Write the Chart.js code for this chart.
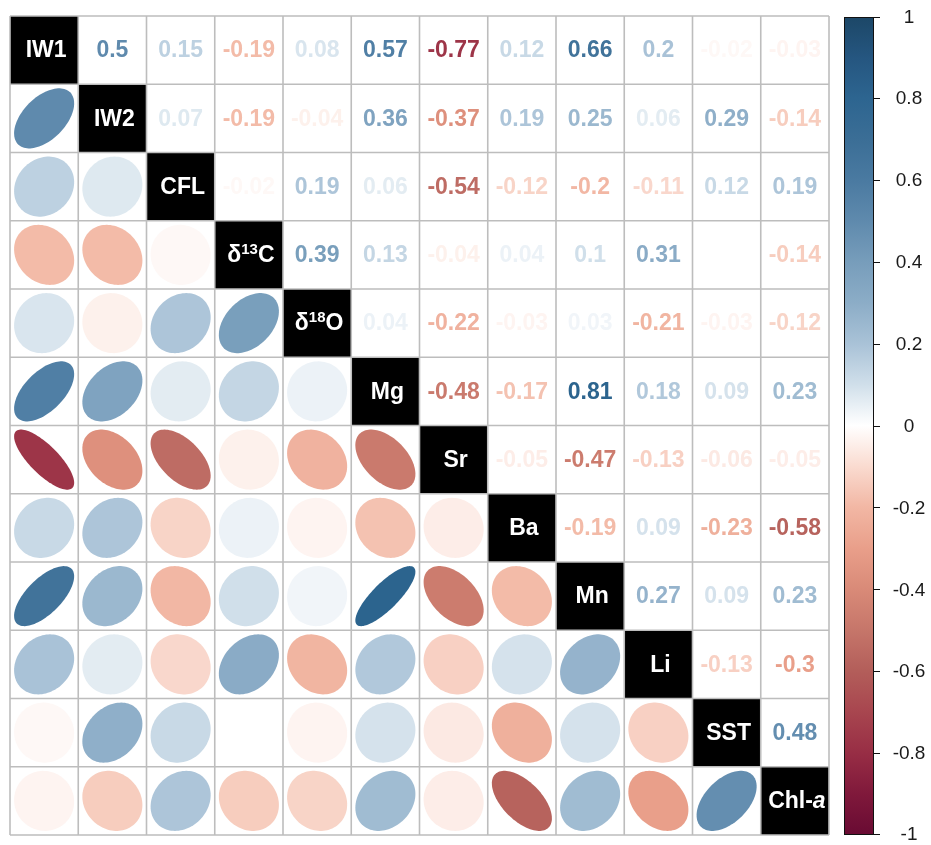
<!DOCTYPE html>
<html>
<head>
<meta charset="utf-8">
<script src="https://cdn.jsdelivr.net/npm/chart.js@4.4.1/dist/chart.umd.min.js"></script>
<style>
  html, body { margin: 0; padding: 0; background: #fff; }
  #wrap { width: 931px; height: 845px; }
</style>
</head>
<body>
<div id="wrap"><canvas id="corrChart"></canvas></div>
<script>
// variables, in matrix order
const labels = ["IW1", "IW2", "CFL", "δ13C", "δ18O", "Mg", "Sr", "Ba", "Mn", "Li", "SST", "Chl-a"];

// upper triangle: correlation of each variable with the ones after it
const rIW1 = [0.5, 0.15, -0.19, 0.08, 0.57, -0.77, 0.12, 0.66, 0.2, -0.02, -0.03];
const rIW2 = [0.07, -0.19, -0.04, 0.36, -0.37, 0.19, 0.25, 0.06, 0.29, -0.14];
const rCFL = [-0.02, 0.19, 0.06, -0.54, -0.12, -0.2, -0.11, 0.12, 0.19];
const rD13C = [0.39, 0.13, -0.04, 0.04, 0.1, 0.31, 0, -0.14];
const rD18O = [0.04, -0.22, -0.03, 0.03, -0.21, -0.03, -0.12];
const rMg = [-0.48, -0.17, 0.81, 0.18, 0.09, 0.23];
const rSr = [-0.05, -0.47, -0.13, -0.06, -0.05];
const rBa = [-0.19, 0.09, -0.23, -0.58];
const rMn = [0.27, 0.09, 0.23];
const rLi = [-0.13, -0.3];
const rSST = [0.48];

// colour bar ticks
const barTicks = [1, 0.8, 0.6, 0.4, 0.2, 0, -0.2, -0.4, -0.6, -0.8, -1];
const barTickLabels = ["1", "0.8", "0.6", "0.4", "0.2", "0", "-0.2", "-0.4", "-0.6", "-0.8", "-1"];

// palette stops (value -> colour)
const palette = [
  [-1.0, "#690b33"], [-0.9, "#80193b"], [-0.8, "#982e45"], [-0.7, "#a8464f"],
  [-0.6, "#b35e5a"], [-0.5, "#c6766a"], [-0.4, "#d98a78"], [-0.3, "#e99f8a"],
  [-0.2, "#f2b7a4"], [-0.1, "#fadbd0"], [0, "#ffffff"], [0.1, "#d0dfea"],
  [0.2, "#a9c2d7"], [0.3, "#8cadc7"], [0.4, "#779dbb"], [0.5, "#5f8aad"],
  [0.6, "#4a7aa1"], [0.7, "#3b6e96"], [0.8, "#2d6590"], [0.9, "#255680"],
  [1.0, "#1c4767"]
];

const FONT = '"Liberation Sans", Arial, sans-serif';

function hexToRgb(h) {
  return [parseInt(h.slice(1, 3), 16), parseInt(h.slice(3, 5), 16), parseInt(h.slice(5, 7), 16)];
}

function colorFor(v) {
  for (let i = 0; i < palette.length - 1; i++) {
    const [v0, c0] = palette[i];
    const [v1, c1] = palette[i + 1];
    if (v >= v0 && v <= v1) {
      const t = (v - v0) / (v1 - v0);
      const a = hexToRgb(c0), b = hexToRgb(c1);
      const c = a.map((x, k) => Math.round(x + (b[k] - x) * t));
      return `rgb(${c[0]},${c[1]},${c[2]})`;
    }
  }
  return palette[palette.length - 1][1];
}

// full symmetric matrix built from the rows above
const upperRows = [rIW1, rIW2, rCFL, rD13C, rD18O, rMg, rSr, rBa, rMn, rLi, rSST, []];
const n = labels.length;
const corr = [];
for (let i = 0; i < n; i++) corr.push(new Array(n).fill(1));
upperRows.forEach((row, i) => {
  row.forEach((v, k) => {
    const j = i + 1 + k;
    corr[i][j] = v;
    corr[j][i] = v;
  });
});

const lowerCells = [], upperCells = [], diagCells = [];
for (let i = 0; i < n; i++) {
  for (let j = 0; j < n; j++) {
    const cell = { x: j + 0.5, y: i + 0.5, v: corr[i][j], name: labels[i] };
    if (i > j) lowerCells.push(cell);
    else if (i < j) upperCells.push(cell);
    else diagCells.push(cell);
  }
}

function drawLabel(ctx, name, cx, cy) {
  ctx.fillStyle = "#ffffff";
  ctx.textBaseline = "middle";
  let parts;
  const m = name.match(/^δ(\d+)(\w)$/);
  if (m) {
    parts = [
      { t: "δ", f: `bold 23px ${FONT}`, dy: 0 },
      { t: m[1], f: `bold 15px ${FONT}`, dy: -6 },
      { t: m[2], f: `bold 23px ${FONT}`, dy: 0 }
    ];
  } else if (name.endsWith("-a")) {
    parts = [
      { t: name.slice(0, -1), f: `bold 23px ${FONT}`, dy: 0 },
      { t: "a", f: `italic bold 23px ${FONT}`, dy: 0 }
    ];
  } else {
    parts = [{ t: name, f: `bold 23px ${FONT}`, dy: 0 }];
  }
  let total = 0;
  parts.forEach(p => { ctx.font = p.f; p.w = ctx.measureText(p.t).width; total += p.w; });
  let x = cx - total / 2 + 2;
  ctx.textAlign = "left";
  parts.forEach(p => {
    ctx.font = p.f;
    ctx.fillText(p.t, x, cy + 1 + p.dy);
    x += p.w;
  });
}

const corrPlot = {
  id: "corrPlot",
  beforeDatasetsDraw(chart) {
    const { ctx, chartArea, scales: { x, y } } = chart;
    ctx.save();
    ctx.fillStyle = "#ffffff";
    ctx.fillRect(chartArea.left, chartArea.top, chartArea.width, chartArea.height);
    // black diagonal cells
    ctx.fillStyle = "#000000";
    chart.getDatasetMeta(2).data.forEach((el, k) => {
      const d = chart.data.datasets[2].data[k];
      const x0 = x.getPixelForValue(d.x - 0.5), x1 = x.getPixelForValue(d.x + 0.5);
      const y0 = y.getPixelForValue(d.y - 0.5), y1 = y.getPixelForValue(d.y + 0.5);
      ctx.fillRect(x0, y0, x1 - x0, y1 - y0);
    });
    ctx.restore();
  },
  afterDatasetsDraw(chart) {
    const { ctx, chartArea, scales: { x, y, cb } } = chart;
    const cw = x.getPixelForValue(1) - x.getPixelForValue(0);
    const ch = y.getPixelForValue(1) - y.getPixelForValue(0);
    ctx.save();

    // ellipses (lower triangle)
    chart.getDatasetMeta(0).data.forEach((el, k) => {
      const d = chart.data.datasets[0].data[k];
      const a = Math.acos(d.v);
      ctx.beginPath();
      for (let s = 0; s <= 100; s++) {
        const t = (s / 100) * 2 * Math.PI;
        const px = el.x + cw * 0.44 * Math.cos(t + a / 2);
        const py = el.y - ch * 0.44 * Math.cos(t - a / 2);
        if (s === 0) ctx.moveTo(px, py); else ctx.lineTo(px, py);
      }
      ctx.closePath();
      ctx.fillStyle = colorFor(d.v);
      ctx.fill();
    });

    // numbers (upper triangle)
    ctx.font = `bold 23px ${FONT}`;
    ctx.textAlign = "center";
    ctx.textBaseline = "middle";
    chart.getDatasetMeta(1).data.forEach((el, k) => {
      const d = chart.data.datasets[1].data[k];
      ctx.fillStyle = colorFor(d.v);
      ctx.fillText(String(d.v), el.x, el.y + 1);
    });

    // variable names on the diagonal
    chart.getDatasetMeta(2).data.forEach((el, k) => {
      drawLabel(ctx, chart.data.datasets[2].data[k].name, el.x, el.y);
    });

    // grid
    ctx.strokeStyle = "#bdbdbd";
    ctx.lineWidth = 1.6;
    ctx.beginPath();
    for (let i = 0; i <= n; i++) {
      const px = x.getPixelForValue(i), py = y.getPixelForValue(i);
      ctx.moveTo(px, chartArea.top); ctx.lineTo(px, chartArea.bottom);
      ctx.moveTo(chartArea.left, py); ctx.lineTo(chartArea.right, py);
    }
    ctx.stroke();

    // colour bar
    const bx = chartArea.right + 15, bw = 29;
    const top = cb.getPixelForValue(1) + 1, bot = cb.getPixelForValue(-1) - 1;
    const grad = ctx.createLinearGradient(0, top, 0, bot);
    palette.forEach(([v, c]) => grad.addColorStop((1 - v) / 2, c));
    ctx.fillStyle = grad;
    ctx.fillRect(bx, top, bw, bot - top);
    ctx.strokeStyle = "#111111";
    ctx.lineWidth = 1;
    ctx.strokeRect(bx + 0.5, top + 0.5, bw, bot - top);
    ctx.beginPath();
    ctx.fillStyle = "#1a1a1a";
    ctx.font = `19px ${FONT}`;
    ctx.textAlign = "center";
    ctx.textBaseline = "middle";
    barTicks.forEach((v, i) => {
      let py = cb.getPixelForValue(v);
      py = Math.min(Math.max(py, top), bot);
      ctx.moveTo(bx + bw, Math.round(py) + 0.5);
      ctx.lineTo(bx + bw + 7, Math.round(py) + 0.5);
      ctx.fillText(barTickLabels[i], bx + bw + 36, py + 1);
    });
    ctx.stroke();
    ctx.restore();
  }
};

new Chart(document.getElementById("corrChart"), {
  type: "scatter",
  data: {
    datasets: [
      { label: "lower", data: lowerCells, pointRadius: 0 },
      { label: "upper", data: upperCells, pointRadius: 0 },
      { label: "diag", data: diagCells, pointRadius: 0 }
    ]
  },
  options: {
    responsive: true,
    maintainAspectRatio: false,
    animation: false,
    events: [],
    layout: { padding: { left: 10, top: 16, right: 102, bottom: 10 } },
    plugins: { legend: { display: false }, tooltip: { enabled: false } },
    scales: {
      x: { type: "linear", min: 0, max: n, display: false },
      y: { type: "linear", min: 0, max: n, reverse: true, display: false },
      cb: { type: "linear", axis: "y", min: -1, max: 1, display: false }
    }
  },
  plugins: [corrPlot]
});
</script>
</body>
</html>
